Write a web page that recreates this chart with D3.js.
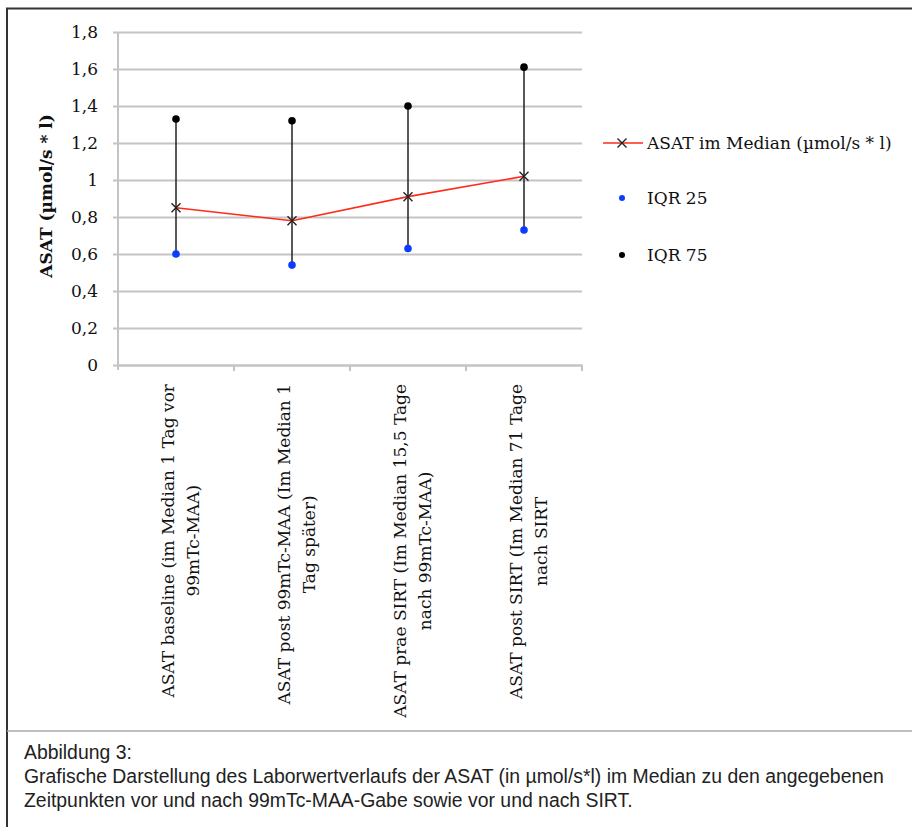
<!DOCTYPE html>
<html>
<head>
<meta charset="utf-8">
<script src="https://cdn.jsdelivr.net/npm/d3@7"></script>
<style>
  html, body { margin: 0; padding: 0; background: #fff; }
  svg { display: block; }
</style>
</head>
<body>
<svg id="chart" width="912" height="827"></svg>
<script>
// ASAT time course: median with interquartile range
const categories = [
  ["ASAT baseline (im Median 1 Tag vor", "99mTc-MAA)"],
  ["ASAT post 99mTc-MAA (Im Median 1", "Tag später)"],
  ["ASAT prae SIRT (Im Median 15,5 Tage", "nach 99mTc-MAA)"],
  ["ASAT post SIRT (Im Median 71 Tage", "nach SIRT"]
];
const median = [0.85, 0.78, 0.91, 1.02];
const iqr25 = [0.60, 0.54, 0.63, 0.73];
const iqr75 = [1.33, 1.32, 1.40, 1.61];
const yTicks = [0, 0.2, 0.4, 0.6, 0.8, 1, 1.2, 1.4, 1.6, 1.8];
const legendItems = ["ASAT im Median (µmol/s * l)", "IQR 25", "IQR 75"];
const captionLines = [
  "Abbildung 3:",
  "Grafische Darstellung des Laborwertverlaufs der ASAT (in µmol/s*l) im Median zu den angegebenen",
  "Zeitpunkten vor und nach 99mTc-MAA-Gabe sowie vor und nach SIRT."
];

const svg = d3.select("#chart");
const serif = "'DejaVu Serif', serif";
const sans = "'Liberation Sans', Arial, sans-serif";
const fs = 17;

// Frame
svg.append("line").attr("x1", 6).attr("x2", 912).attr("y1", 8.5).attr("y2", 8.5)
  .attr("stroke", "#333").attr("stroke-width", 2);
svg.append("line").attr("x1", 7).attr("x2", 7).attr("y1", 8).attr("y2", 827)
  .attr("stroke", "#333").attr("stroke-width", 2);
svg.append("line").attr("x1", 7).attr("x2", 912).attr("y1", 731).attr("y2", 731)
  .attr("stroke", "#aaa").attr("stroke-width", 1.5);

const plot = { left: 118, right: 582, top: 32, bottom: 365 };

const x = d3.scaleBand().domain(d3.range(categories.length))
  .range([plot.left, plot.right]).padding(0);
const y = d3.scaleLinear().domain([0, 1.8]).range([plot.bottom, plot.top]);
const cx = i => x(i) + x.bandwidth() / 2;

// Gridlines + y axis
const yAxis = d3.axisLeft(y).tickValues(yTicks)
  .tickSize(-(plot.right - plot.left + 5)).tickPadding(15)
  .tickFormat(d => d3.format("~g")(d).replace(".", ","));
const yg = svg.append("g").attr("transform", `translate(${plot.left - 5},0)`).call(yAxis);
yg.select(".domain").remove();
yg.selectAll(".tick line").attr("stroke", "#c4c4c4").attr("stroke-width", 2);
yg.selectAll(".tick text").attr("font-family", serif).attr("font-size", fs)
  .attr("fill", "#111").attr("dy", "0.33em");

// Vertical axis line
svg.append("line").attr("x1", plot.left).attr("x2", plot.left)
  .attr("y1", plot.top).attr("y2", plot.bottom + 5)
  .attr("stroke", "#c4c4c4").attr("stroke-width", 2);

// X axis with boundary ticks
const xAxis = d3.axisBottom(x).tickSize(0).tickFormat("");
const xg = svg.append("g").attr("transform", `translate(0,${plot.bottom})`).call(xAxis);
xg.select(".domain").attr("stroke", "#c4c4c4").attr("stroke-width", 2);
xg.selectAll(".tick").remove();
xg.selectAll("line.boundary").data(d3.range(1, categories.length + 1)).join("line")
  .attr("class", "boundary")
  .attr("x1", i => i < categories.length ? x(i) : plot.right)
  .attr("x2", i => i < categories.length ? x(i) : plot.right)
  .attr("y1", 0).attr("y2", 6).attr("stroke", "#c4c4c4").attr("stroke-width", 2);

// Category labels (rotated, two centred lines, block top-aligned under the axis)
const labelTop = 384;
categories.forEach((lines, i) => {
  const t = svg.append("text")
    .attr("font-family", serif).attr("font-size", fs).attr("fill", "#111")
    .attr("text-anchor", "middle");
  lines.forEach((l, k) => t.append("tspan").attr("x", 0).attr("dy", k === 0 ? 0 : 25).text(l));
  const w = d3.max(t.selectAll("tspan").nodes(), n => n.getComputedTextLength());
  t.attr("transform", `translate(${cx(i) - 2.5},${labelTop + w / 2}) rotate(-90)`);
});

// Y axis title
svg.append("text")
  .attr("transform", "translate(52,196) rotate(-90)")
  .attr("text-anchor", "middle").attr("font-family", serif).attr("font-weight", "bold")
  .attr("font-size", 17).attr("fill", "#111").text("ASAT (µmol/s * l)");

// IQR whiskers
svg.append("g").selectAll("line").data(d3.range(categories.length)).join("line")
  .attr("x1", cx).attr("x2", cx)
  .attr("y1", i => y(iqr25[i])).attr("y2", i => y(iqr75[i]))
  .attr("stroke", "#222").attr("stroke-width", 1.5);

// Median line
svg.append("path").datum(median)
  .attr("d", d3.line().x((d, i) => cx(i)).y(d => y(d)))
  .attr("fill", "none").attr("stroke", "#ff2a1a").attr("stroke-width", 1.6);

// Cross markers
const cross = (g, px, py, s) => {
  g.append("path").attr("d", `M${px - s},${py - s}L${px + s},${py + s}M${px - s},${py + s}L${px + s},${py - s}`)
    .attr("stroke", "#222").attr("stroke-width", 1.4).attr("fill", "none");
};
const mk = svg.append("g");
median.forEach((d, i) => cross(mk, cx(i), y(d), 4.5));

// Quartile dots
svg.append("g").selectAll("circle").data(iqr25).join("circle")
  .attr("cx", (d, i) => cx(i)).attr("cy", d => y(d)).attr("r", 3.8).attr("fill", "#0a3dff");
svg.append("g").selectAll("circle").data(iqr75).join("circle")
  .attr("cx", (d, i) => cx(i)).attr("cy", d => y(d)).attr("r", 3.8).attr("fill", "#000");

// Legend
const lg = svg.append("g");
const legendY = [143, 198, 255];
lg.append("line").attr("x1", 603).attr("x2", 643).attr("y1", legendY[0]).attr("y2", legendY[0])
  .attr("stroke", "#ff2a1a").attr("stroke-width", 1.6);
cross(lg, 622, legendY[0], 4.5);
lg.append("circle").attr("cx", 622).attr("cy", legendY[1]).attr("r", 3).attr("fill", "#0a3dff");
lg.append("circle").attr("cx", 622).attr("cy", legendY[2]).attr("r", 3).attr("fill", "#000");
lg.selectAll("text").data(legendItems).join("text")
  .attr("x", 647).attr("y", (d, i) => legendY[i]).attr("dy", "0.35em")
  .attr("font-family", serif).attr("font-size", fs).attr("fill", "#111").text(d => d);

// Caption
svg.append("g").selectAll("text").data(captionLines).join("text")
  .attr("x", 24).attr("y", (d, i) => 759 + i * 24)
  .attr("font-family", sans).attr("font-size", 19.4).attr("fill", "#222").text(d => d);
</script>
</body>
</html>
